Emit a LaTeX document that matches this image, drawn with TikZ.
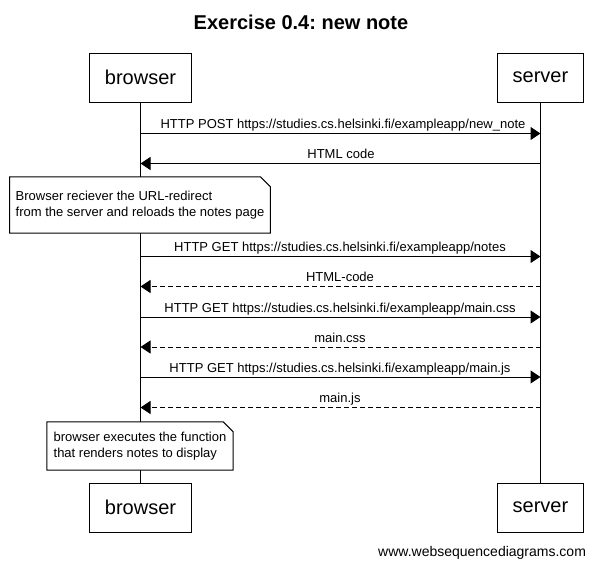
\documentclass[tikz,border=0pt]{standalone}
\usepackage{fontspec}
\setmainfont{Liberation Sans}
\frenchspacing
\usetikzlibrary{arrows.meta}
\begin{document}
\begin{tikzpicture}[x=1pt,y=-1pt,
  actor/.style={draw, line width=1pt, fill=white, minimum height=49pt, inner xsep=15pt, inner ysep=0pt, font=\fontsize{20}{24}\selectfont},
  msg/.style={line width=1pt, -{Triangle[length=10pt,width=13pt]}},
  ret/.style={msg, dash pattern=on 5pt off 3pt},
  lbl/.style={anchor=base, inner sep=0pt, font=\fontsize{13}{15.6}\selectfont},
  notebox/.style={fill=white, inner xsep=6pt, inner ysep=0pt, align=left, font=\fontsize{13}{15.6}\selectfont},
  noteline/.style={line width=1pt, line join=miter},
  life/.style={line width=1pt}]
\useasboundingbox (0,0) rectangle (598,566);
% title
\node[anchor=base, inner sep=0pt, font=\fontsize{20}{24}\selectfont\bfseries] (title) at (301,29) {Exercise 0.4: new note};
% actors
\node[actor] (bt) at (140.5,77.5) {browser};
\node[actor] (st) at (540.5,77.5) {server};
\node[actor] (bb) at (140.5,507.5) {browser};
\node[actor] (sb) at (540.5,507.5) {server};
% lifelines
\draw[life] (bt.south) -- (bb.north);
\draw[life] (st.south) -- (sb.north);
% messages
\foreach \n/\y in {1/133.5,2/163.5,3/256.5,4/286.5,5/317,6/347,7/377,8/407.5}{
  \coordinate (b\n) at (140.5,\y);
  \coordinate (s\n) at (540.5,\y);
}
\draw[msg] (b1) -- (s1);
\node[lbl] (l1) at (343,128.5) {HTTP POST https://studies.cs.helsinki.fi/exampleapp/new\_note};
\draw[msg] (s2) -- (b2);
\node[lbl] (l2) at (341,158.5) {HTML code};
% note 1
\node[notebox, minimum width=260pt, minimum height=56pt] (n1) at (140,205) {Browser reciever the URL-redirect\\from the server and reloads the notes page};
\draw[noteline] (n1.north west) -- ([xshift=-10pt]n1.north east) -- ([yshift=-10pt]n1.north east) -- (n1.south east) -- (n1.south west) -- cycle;
\draw[msg] (b3) -- (s3);
\node[lbl] (l3) at (340,251.5) {HTTP GET https://studies.cs.helsinki.fi/exampleapp/notes};
\draw[ret] (s4) -- (b4);
\node[lbl] (l4) at (340,281.5) {HTML-code};
\draw[msg] (b5) -- (s5);
\node[lbl] (l5) at (340,312) {HTTP GET https://studies.cs.helsinki.fi/exampleapp/main.css};
\draw[ret] (s6) -- (b6);
\node[lbl] (l6) at (340,342) {main.css};
\draw[msg] (b7) -- (s7);
\node[lbl] (l7) at (340,372) {HTTP GET https://studies.cs.helsinki.fi/exampleapp/main.js};
\draw[ret] (s8) -- (b8);
\node[lbl] (l8) at (340,402.5) {main.js};
% note 2
\node[notebox, minimum width=186pt, minimum height=48pt] (n2) at (140,446) {browser executes the function\\that renders notes to display};
\draw[noteline] (n2.north west) -- ([xshift=-10pt]n2.north east) -- ([yshift=-10pt]n2.north east) -- (n2.south east) -- (n2.south west) -- cycle;
% watermark
\node[anchor=base west, inner sep=0pt, font=\fontsize{14}{16}\selectfont] (wm) at (378,556) {www.websequencediagrams.com};
\end{tikzpicture}
\end{document}
